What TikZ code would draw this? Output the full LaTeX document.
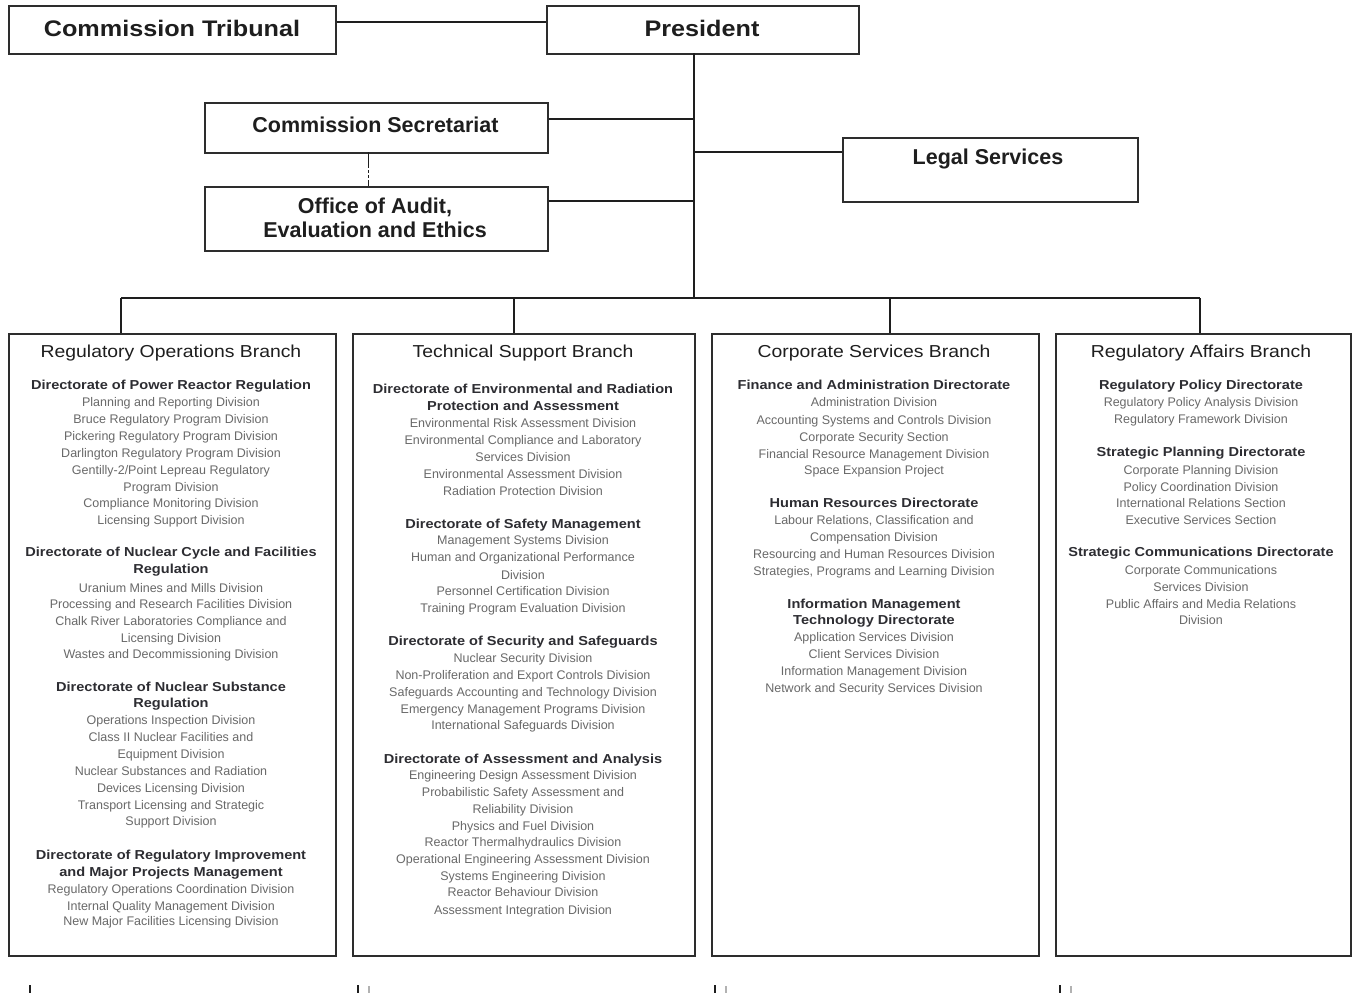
\documentclass[tikz,border=0pt]{standalone}
\usepackage{fontspec}
\setmainfont{Liberation Sans}
\newfontfamily\wf[FakeStretch=1.12]{Liberation Sans}
\definecolor{boxc}{RGB}{45,45,45}
\definecolor{linec}{RGB}{30,30,30}
\definecolor{txttop}{RGB}{30,30,30}
\definecolor{txtbold}{RGB}{45,45,50}
\definecolor{txtgray}{RGB}{105,105,105}
\tikzset{
  box/.style={draw=boxc, line width=1.8pt, inner sep=0pt, fill=white, anchor=north west},
  conn/.style={draw=linec, line width=1.4pt},
  dconn/.style={draw=linec, line width=1pt, dash pattern=on 16pt off 2pt on 3pt off 2pt on 3pt off 2pt on 10pt},
  toplblw/.style={anchor=base, inner sep=0pt, text=txttop, font=\wf\bfseries\fontsize{22.5}{26}\selectfont},
  toplbl/.style={anchor=base, inner sep=0pt, text=txttop, font=\bfseries\fontsize{21.5}{26}\selectfont},
  brt/.style={anchor=base, inner sep=0pt, text=txttop, font=\wf\fontsize{17.3}{20}\selectfont},
  lnh/.style={anchor=base, inner sep=0pt, text=txtbold, font=\wf\bfseries\fontsize{13}{16}\selectfont},
  lnd/.style={anchor=base, inner sep=0pt, text=txtgray, font=\fontsize{12.5}{16}\selectfont},
  tick/.style={draw=linec, line width=1.2pt},
}
\begin{document}
\begin{tikzpicture}[x=1pt,y=-1pt]
\useasboundingbox[fill=white] (0,0) rectangle (1359,993);

% top boxes
\node[box, minimum width=327pt, minimum height=48pt] (trib) at (8,5) {};
\node[box, minimum width=312pt, minimum height=48pt] (pres) at (546,5) {};
\node[box, minimum width=343pt, minimum height=50pt] (sec) at (204,102) {};
\node[box, minimum width=343pt, minimum height=64pt] (off) at (204,186) {};
\node[box, minimum width=295pt, minimum height=64pt] (legal) at (842,137) {};

\node[toplblw] (tribt) at (172,28.5+8) {Commission Tribunal};
\node[toplblw] (prest) at (702,28.5+8) {President};
\node[toplbl] (sect) at (375.5,124.8+7.7) {Commission Secretariat};
\node[toplbl] (offt1) at (375,205.5+7.7) {Office of Audit,};
\node[toplbl] (offt2) at (375,230+7.7) {Evaluation and Ethics};
\node[toplbl] (legalt) at (988,156.5+7.7) {Legal Services};

% branch boxes
\node[box, minimum width=327pt, minimum height=622pt] (ro) at (8,333) {};
\node[box, minimum width=342pt, minimum height=622pt] (ts) at (352,333) {};
\node[box, minimum width=327pt, minimum height=622pt] (cs) at (711,333) {};
\node[box, minimum width=295pt, minimum height=622pt] (ra) at (1055,333) {};

% connectors
\coordinate (tt) at (694,53);
\coordinate (jb) at (694,298);
\coordinate (secj) at (694,119);
\coordinate (legj) at (694,152);
\coordinate (offj) at (694,201);
\coordinate (b1) at (121,298);
\coordinate (b2) at (514,298);
\coordinate (b3) at (890,298);
\coordinate (b4) at (1200,298);
\coordinate (ds) at (368,152);
\coordinate (de) at (368,186);

\draw[conn] ([yshift=8pt]trib.east) -- ([yshift=8pt]pres.west);
\draw[conn] (tt) -- (jb);
\draw[conn] (sec.east |- secj) -- (secj);
\draw[conn] (legj) -- (legj -| legal.west);
\draw[conn] (off.east |- offj) -- (offj);
\draw[dconn] (ds) -- (de);
\draw[conn] (b1) -- (b4);
\draw[conn] (b1) -- (b1 |- ro.north);
\draw[conn] (b2) -- (b2 |- ts.north);
\draw[conn] (b3) -- (b3 |- cs.north);
\draw[conn] (b4) -- (b4 |- ra.north);

% branch titles
\node[brt] (rot) at (171,351+6.2) {Regulatory Operations Branch};
\node[brt] (tst) at (523,351+6.2) {Technical Support Branch};
\node[brt] (cst) at (874,351+6.2) {Corporate Services Branch};
\node[brt] (rat) at (1201,351+6.2) {Regulatory Affairs Branch};

% column 1
\foreach \s/\y/\t [count=\i] in {
 lnh/385/{Directorate of Power Reactor Regulation},
 lnd/402/{Planning and Reporting Division},
 lnd/419/{Bruce Regulatory Program Division},
 lnd/436/{Pickering Regulatory Program Division},
 lnd/453/{Darlington Regulatory Program Division},
 lnd/470/{Gentilly-2/Point Lepreau Regulatory},
 lnd/487/{Program Division},
 lnd/503/{Compliance Monitoring Division},
 lnd/520/{Licensing Support Division},
 lnh/552/{Directorate of Nuclear Cycle and Facilities},
 lnh/569/{Regulation},
 lnd/588/{Uranium Mines and Mills Division},
 lnd/604/{Processing and Research Facilities Division},
 lnd/621/{Chalk River Laboratories Compliance and},
 lnd/638/{Licensing Division},
 lnd/654/{Wastes and Decommissioning Division},
 lnh/687/{Directorate of Nuclear Substance},
 lnh/703/{Regulation},
 lnd/720/{Operations Inspection Division},
 lnd/737/{Class II Nuclear Facilities and},
 lnd/754/{Equipment Division},
 lnd/771/{Nuclear Substances and Radiation},
 lnd/788/{Devices Licensing Division},
 lnd/805/{Transport Licensing and Strategic},
 lnd/821/{Support Division},
 lnh/855/{Directorate of Regulatory Improvement},
 lnh/872/{and Major Projects Management},
 lnd/889/{Regulatory Operations Coordination Division},
 lnd/906/{Internal Quality Management Division},
 lnd/921/{New Major Facilities Licensing Division}}
 {\node[\s] (ro\i) at (171,\y+4.6) {\t};}

% column 2
\foreach \s/\y/\t [count=\i] in {
 lnh/389/{Directorate of Environmental and Radiation},
 lnh/406/{Protection and Assessment},
 lnd/423/{Environmental Risk Assessment Division},
 lnd/440/{Environmental Compliance and Laboratory},
 lnd/457/{Services Division},
 lnd/474/{Environmental Assessment Division},
 lnd/491/{Radiation Protection Division},
 lnh/524/{Directorate of Safety Management},
 lnd/540/{Management Systems Division},
 lnd/557/{Human and Organizational Performance},
 lnd/575/{Division},
 lnd/591/{Personnel Certification Division},
 lnd/608/{Training Program Evaluation Division},
 lnh/641/{Directorate of Security and Safeguards},
 lnd/658/{Nuclear Security Division},
 lnd/675/{Non-Proliferation and Export Controls Division},
 lnd/692/{Safeguards Accounting and Technology Division},
 lnd/709/{Emergency Management Programs Division},
 lnd/725/{International Safeguards Division},
 lnh/759/{Directorate of Assessment and Analysis},
 lnd/775/{Engineering Design Assessment Division},
 lnd/792/{Probabilistic Safety Assessment and},
 lnd/809/{Reliability Division},
 lnd/826/{Physics and Fuel Division},
 lnd/842/{Reactor Thermalhydraulics Division},
 lnd/859/{Operational Engineering Assessment Division},
 lnd/876/{Systems Engineering Division},
 lnd/892/{Reactor Behaviour Division},
 lnd/910/{Assessment Integration Division}}
 {\node[\s] (ts\i) at (523,\y+4.6) {\t};}

% column 3
\foreach \s/\y/\t [count=\i] in {
 lnh/385/{Finance and Administration Directorate},
 lnd/402/{Administration Division},
 lnd/420/{Accounting Systems and Controls Division},
 lnd/437/{Corporate Security Section},
 lnd/454/{Financial Resource Management Division},
 lnd/470/{Space Expansion Project},
 lnh/503/{Human Resources Directorate},
 lnd/520/{Labour Relations, Classification and},
 lnd/537/{Compensation Division},
 lnd/554/{Resourcing and Human Resources Division},
 lnd/571/{Strategies, Programs and Learning Division},
 lnh/604/{Information Management},
 lnh/620/{Technology Directorate},
 lnd/637/{Application Services Division},
 lnd/654/{Client Services Division},
 lnd/671/{Information Management Division},
 lnd/688/{Network and Security Services Division}}
 {\node[\s] (cs\i) at (874,\y+4.6) {\t};}

% column 4
\foreach \s/\y/\t [count=\i] in {
 lnh/385/{Regulatory Policy Directorate},
 lnd/402/{Regulatory Policy Analysis Division},
 lnd/419/{Regulatory Framework Division},
 lnh/452/{Strategic Planning Directorate},
 lnd/470/{Corporate Planning Division},
 lnd/487/{Policy Coordination Division},
 lnd/503/{International Relations Section},
 lnd/520/{Executive Services Section},
 lnh/552/{Strategic Communications Directorate},
 lnd/570/{Corporate Communications},
 lnd/587/{Services Division},
 lnd/604/{Public Affairs and Media Relations},
 lnd/620/{Division}}
 {\node[\s] (ra\i) at (1201,\y+4.6) {\t};}

% small marks at the bottom edge
\draw[tick] (30,985) -- (30,993);
\draw[tick] (358,985) -- (358,993);
\draw[tick, draw=gray!60] (369,986) -- (369,993);
\draw[tick] (715,985) -- (715,993);
\draw[tick, draw=gray!60] (726,986) -- (726,993);
\draw[tick] (1060,985) -- (1060,993);
\draw[tick, draw=gray!60] (1071,986) -- (1071,993);
\end{tikzpicture}
\end{document}
